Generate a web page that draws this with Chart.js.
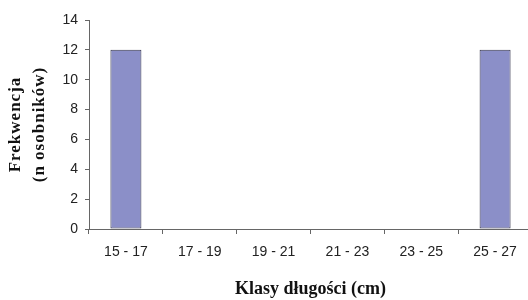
<!DOCTYPE html>
<html><head><meta charset="utf-8">
<script src="https://cdn.jsdelivr.net/npm/chart.js@4"></script>
<style>html,body{margin:0;padding:0;background:#fff;overflow:hidden}#w{width:532px;height:300px}</style>
</head><body><div id="w"><canvas id="c"></canvas></div>
<script>
const categories = ["15 - 17", "17 - 19", "19 - 21", "21 - 23", "23 - 25", "25 - 27"];
const frequencies = [12, 0, 0, 0, 0, 12];
const yTicks = [0, 2, 4, 6, 8, 10, 12, 14];
const xTitle = "Klasy długości (cm)";
const yTitle = ["Frekwencja", "(n osobników)"];

function spacedTitle(s, spacing) {
  if (s._spaced) return;
  s._spaced = true;
  const orig = s.drawTitle.bind(s);
  s.drawTitle = function () {
    const ctx = this.ctx;
    const prev = ctx.letterSpacing;
    ctx.letterSpacing = spacing;
    orig();
    ctx.letterSpacing = prev || '0px';
  };
}

new Chart(document.getElementById('c'), {
  type: 'bar',
  data: { labels: categories, datasets: [{ data: frequencies, backgroundColor: '#8b8fc8', borderColor: '#33334a', borderWidth: 1, borderSkipped: false, categoryPercentage: 1, barPercentage: 0.42 }] },
  options: {
    responsive: true, maintainAspectRatio: false, animation: false,
    layout: { padding: { top: 20, right: 0, left: 0, bottom: 0 } },
    plugins: { legend: { display: false }, tooltip: { enabled: false } },
    scales: {
      x: {
        grid: { offset: true, drawOnChartArea: false, tickLength: 5, color: '#666' },
        border: { color: '#666', width: 1 },
        ticks: { color: '#222', font: { family: 'Liberation Sans', size: 14 }, padding: 10, maxRotation: 0, autoSkip: false },
        title: { display: true, text: xTitle, color: '#111', font: { family: 'Liberation Serif', size: 18, weight: 'bold' }, padding: { top: 0, bottom: 0 } },
        afterFit: s => { s.height = 71; }
      },
      y: {
        min: 0, max: 14,
        afterBuildTicks: s => { s.ticks = yTicks.map(v => ({ value: v })); },
        grid: { drawOnChartArea: false, tickLength: 4, color: '#666' },
        border: { color: '#666', width: 1 },
        ticks: { color: '#222', font: { family: 'Liberation Sans', size: 14 }, padding: 7 },
        title: { display: true, text: yTitle, color: '#111', font: { family: 'Liberation Serif', size: 17, weight: 'bold', lineHeight: 1.45 }, padding: { top: 3, bottom: 0 } },
        afterFit: s => { s.width = 89; spacedTitle(s, '1px'); }
      }
    }
  }
});
</script></body></html>
